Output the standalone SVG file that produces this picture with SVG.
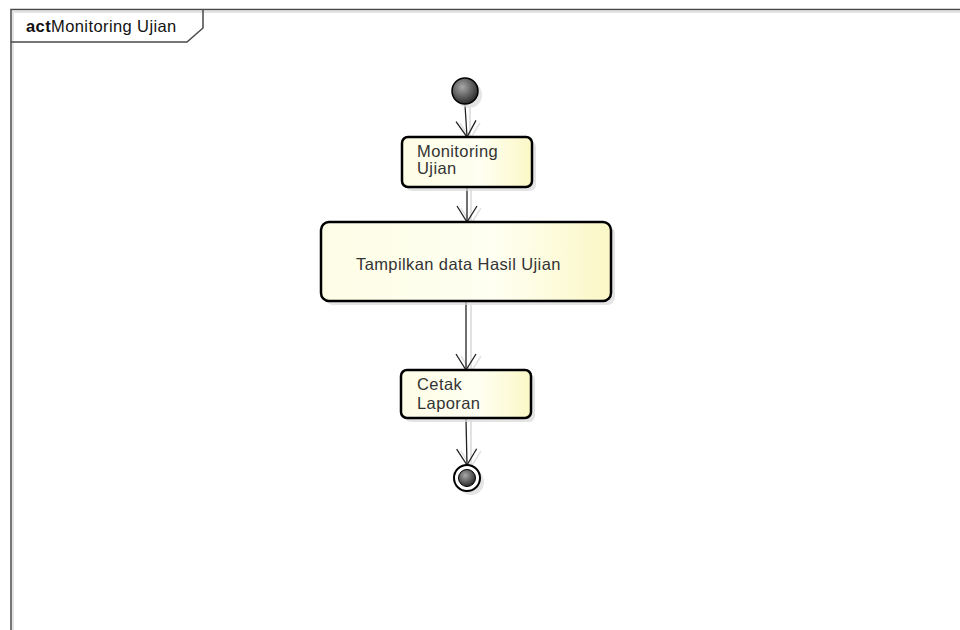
<svg xmlns="http://www.w3.org/2000/svg" width="960" height="630" viewBox="0 0 960 630">
<style>
.frame{fill:none;stroke:#4a4a4a;stroke-width:1.5}
.fshadow{fill:none;stroke:#e4e4e4;stroke-width:2}
.act{fill:url(#yg);stroke:#000;stroke-width:2.5}
.shadow{fill:#d8d8d8;opacity:0.7}
.lbl{font-family:"Liberation Sans",Arial,sans-serif;font-size:16.5px;fill:#333;letter-spacing:0.4px}
.edge{fill:none;stroke:#222;stroke-width:1.3}
.eshadow{fill:none;stroke:#e2e2e2;stroke-width:2}
</style>
<defs>
<linearGradient id="yg" x1="0" y1="0" x2="1" y2="0">
<stop offset="0" stop-color="#fdfde6"/>
<stop offset="0.6" stop-color="#fffff2"/>
<stop offset="1" stop-color="#fbf7c6"/>
</linearGradient>
<radialGradient id="dg" cx="0.4" cy="0.35" r="0.7">
<stop offset="0" stop-color="#a8a8a8"/>
<stop offset="1" stop-color="#222"/>
</radialGradient>
<marker id="arr" viewBox="0 0 20 22" refX="18" refY="11" markerWidth="20" markerHeight="22" markerUnits="userSpaceOnUse" orient="auto">
<path d="M2,1 L18,11 L2,21" fill="none" stroke="#222" stroke-width="1.3"/>
</marker>
<marker id="arrs" viewBox="0 0 20 22" refX="18" refY="11" markerWidth="20" markerHeight="22" markerUnits="userSpaceOnUse" orient="auto">
<path d="M2,1 L18,11 L2,21" fill="none" stroke="#e2e2e2" stroke-width="1.5"/>
</marker>
</defs>
<rect width="960" height="630" fill="#fff"/>
<g id="frame">
<path class="fshadow" d="M13,630 V12 H960"/>
<path class="frame" d="M11,630 V9.5 H960"/>
<path class="frame" d="M11,42 H187 L203,28 V9.5"/>
<text x="26" y="32" font-family="Liberation Sans,Arial,sans-serif" font-size="16.5" fill="#111" letter-spacing="0.4"><tspan font-weight="bold">act</tspan><tspan>Monitoring Ujian</tspan></text>
</g>
<g id="connectors">
<path class="eshadow" d="M470,108 V139" marker-end="url(#arrs)"/>
<path class="eshadow" d="M471,190 V224" marker-end="url(#arrs)"/>
<path class="eshadow" d="M471,305 V372" marker-end="url(#arrs)"/>
<path class="eshadow" d="M471,421 V467" marker-end="url(#arrs)"/>
<path class="edge" d="M465,105 L467,137" marker-end="url(#arr)"/>
<path class="edge" d="M467,188 V222" marker-end="url(#arr)"/>
<path class="edge" d="M466,302 V370" marker-end="url(#arr)"/>
<path class="edge" d="M466,419 L467,465" marker-end="url(#arr)"/>
</g>
<g id="start">
<circle cx="469" cy="95" r="13" class="shadow"/>
<circle cx="465" cy="91" r="13" fill="url(#dg)" stroke="#000" stroke-width="1.5"/>
</g>
<g id="monitoring">
<rect x="406" y="141" width="130" height="50" rx="6" class="shadow"/>
<rect x="402" y="137" width="130" height="50" rx="6" class="act"/>
<text class="lbl" x="417" y="157">Monitoring</text>
<text class="lbl" x="417" y="174">Ujian</text>
</g>
<g id="tampilkan">
<rect x="325" y="226" width="290" height="79" rx="8" class="shadow"/>
<rect x="321" y="222" width="290" height="79" rx="8" class="act"/>
<text class="lbl" x="356" y="270">Tampilkan data Hasil Ujian</text>
</g>
<g id="cetak">
<rect x="405" y="374" width="130" height="48" rx="6" class="shadow"/>
<rect x="401" y="370" width="130" height="48" rx="6" class="act"/>
<text class="lbl" x="417" y="390">Cetak</text>
<text class="lbl" x="417" y="409">Laporan</text>
</g>
<g id="end">
<circle cx="471" cy="482" r="13" class="shadow"/>
<circle cx="467" cy="478" r="13" fill="#fff" stroke="#000" stroke-width="2"/>
<circle cx="467" cy="478" r="8.5" fill="url(#dg)" stroke="#000" stroke-width="1"/>
</g>
</svg>
